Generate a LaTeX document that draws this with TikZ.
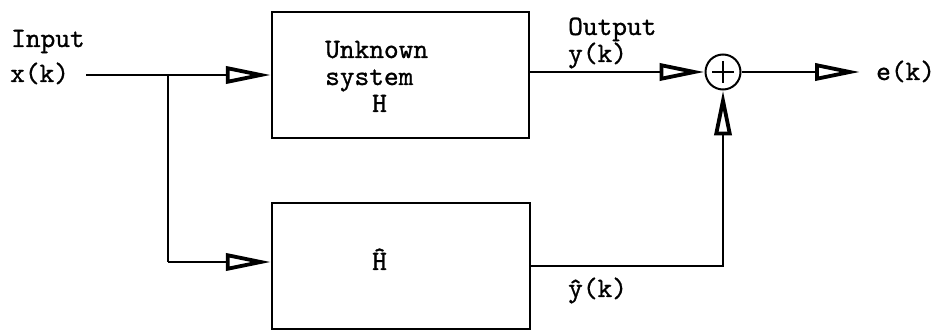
\documentclass[tikz,border=0pt]{standalone}
\usepackage{fontspec}
\usetikzlibrary{arrows.meta}

% typewriter face, a little heavier than the plain mono
\newfontfamily\typer{lmmono10-regular.otf}[FakeBold=1]

\begin{document}
\begin{tikzpicture}[x=1pt,y=-1pt,
  every node/.style={font=\typer\fontsize{28}{32}\selectfont},
  wire/.style={line width=1.8pt},
  block/.style={draw, line width=2.2pt, inner sep=0pt},
  flow/.style={wire, -{Triangle[open, length=45pt, width=17pt, line width=3.8pt]}},
  lbl/.style={anchor=base west, inner sep=0pt},
  adder/.style={draw, circle, line width=2pt, minimum size=35pt, inner sep=0pt},
]
\useasboundingbox (0,0) rectangle (938,331);

% blocks
\node[block, minimum width=257pt, minimum height=126pt] (sys) at (400.5,75) {};
\node[block, minimum width=258pt, minimum height=126pt] (est) at (401,266) {};
\node[adder] (sum) at (723,72) {};
\draw[wire] ([xshift=-11pt]sum.center) -- ([xshift=11pt]sum.center);
\draw[wire] ([yshift=11pt]sum.center) -- ([yshift=-11pt]sum.center);

% texts inside the blocks
\node[lbl] (t1) at (325,58) {Unknown};
\node[lbl] (t2) at (325,85) {system};
\node[lbl] (t3) at (372,112) {H};
\node[lbl] (hhat) at (372,270) {Ĥ};

% signal labels
\node[lbl] (inlbl) at (11,47) {Input};
\node[lbl] (xk) at (10,82) {x(k)};
\node[lbl] (outlbl) at (568,35) {Output};
\node[lbl] (yk) at (568,62) {y(k)};
\node[lbl] (yhat) at (568,297) {ŷ(k)};
\node[lbl] (ek) at (876,80) {e(k)};

% connectors
\coordinate (src) at (86,75);
\coordinate (br) at (168,75);
\coordinate (brlow) at (168,262);
\coordinate (eend) at (860,72);

\draw[flow] (src) -- (sys.west);
\draw[wire] (br) -- (brlow);
\draw[flow] (brlow) -- (brlow -| est.west);
\draw[flow] (sys.east |- sum.west) -- (sum.west);
\draw[flow] (est.east) -| (sum.south);
\draw[flow] (sum.east) -- (eend);
\end{tikzpicture}
\end{document}
